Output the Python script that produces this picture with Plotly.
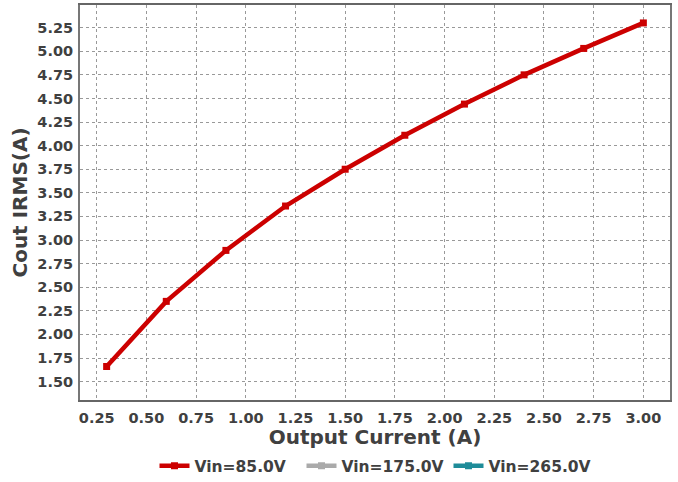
import plotly.graph_objects as go

# Output current sweep and capacitor RMS current per input voltage
output_current = [0.3, 0.6, 0.9, 1.2, 1.5, 1.8, 2.1, 2.4, 2.7, 3.0]
irms_85v = [1.66, 2.35, 2.89, 3.36, 3.75, 4.11, 4.44, 4.75, 5.03, 5.30]
irms_175v = []
irms_265v = []

series = [
    ("Vin=85.0V", irms_85v, "#cc0000"),
    ("Vin=175.0V", irms_175v, "#aaaaaa"),
    ("Vin=265.0V", irms_265v, "#1e8c99"),
]

x_ticks = [0.25 * i for i in range(1, 13)]
y_ticks = [1.5 + 0.25 * i for i in range(0, 16)]

font_family = "DejaVu Sans"
text_color = "#404040"

fig = go.Figure()
for name, values, color in series:
    xs = output_current[:len(values)] if values else [None]
    ys = values if values else [None]
    fig.add_trace(go.Scatter(
        x=xs, y=ys, name=f"<b>{name}</b>", mode="lines+markers",
        line=dict(color=color, width=4.5),
        marker=dict(symbol="square", size=7, color=color),
    ))

axis_common = dict(
    showgrid=True, gridcolor="#999999", griddash="dot", gridwidth=1,
    showline=True, mirror=True, linewidth=2, zeroline=False, automargin=False,
    ticks="", tickfont=dict(family=font_family, size=14.5, color=text_color),
)

fig.update_layout(
    width=678, height=482,
    margin=dict(l=80, r=8, t=5, b=82),
    paper_bgcolor="white", plot_bgcolor="white",
    font=dict(family=font_family, color=text_color),
    xaxis=dict(
        range=[0.166, 3.134], tickvals=x_ticks,
        ticktext=[f"<b>{v:.2f}</b>" for v in x_ticks],
        linecolor="#666666", ticklabelstandoff=4,
        title=dict(text="<b>Output Current (A)</b>",
                   font=dict(family=font_family, size=20, color=text_color),
                   standoff=8),
        **axis_common,
    ),
    yaxis=dict(
        range=[1.305, 5.49], tickvals=y_ticks,
        ticktext=[f"<b>{v:.2f}</b>" for v in y_ticks],
        linecolor="#777777", ticklabelstandoff=2,
        title=dict(text="<b>Cout IRMS(A)</b>",
                   font=dict(family=font_family, size=20, color=text_color),
                   standoff=4),
        **axis_common,
    ),
    legend=dict(
        orientation="h", x=0.5, xanchor="center",
        yref="container", y=0.033, yanchor="middle",
        font=dict(family=font_family, size=15.5, color=text_color),
        itemwidth=30, tracegroupgap=0, entrywidth=102,
    ),
)

fig.write_html("out.html")
